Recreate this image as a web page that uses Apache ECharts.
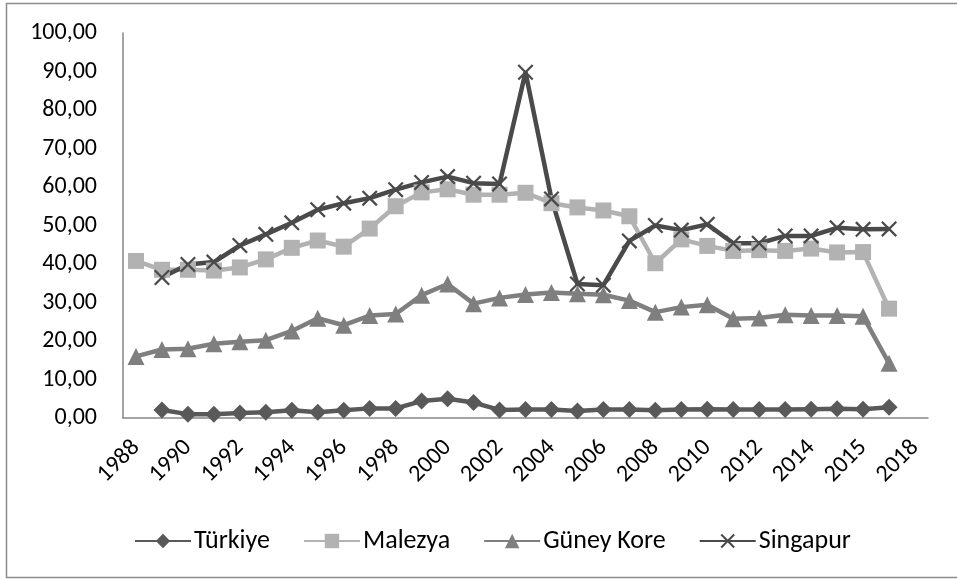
<!DOCTYPE html>
<html>
<head>
<meta charset="utf-8">
<script src="https://cdn.jsdelivr.net/npm/echarts@6/dist/echarts.min.js"></script>
<style>
html,body{margin:0;padding:0;background:#fff;}
#chart{width:957px;height:579px;}
</style>
</head>
<body>
<div id="chart"></div>
<script>
var years = ['1988','1989','1990','1991','1992','1993','1994','1995','1996','1997','1998','1999','2000','2001','2002','2003','2004','2005','2006','2007','2008','2009','2010','2011','2012','2013','2014','2015','2015','2016','2018'];
var yTicks = [0,10,20,30,40,50,60,70,80,90,100];
var turkiye = [null,2.1,1.0,1.0,1.3,1.5,2.0,1.5,2.0,2.5,2.5,4.4,5.0,4.0,2.1,2.2,2.2,1.8,2.2,2.2,2.0,2.2,2.3,2.2,2.2,2.2,2.3,2.4,2.3,2.8,null];
var malezya = [40.8,38.5,38.5,38.3,39.1,41.2,44.2,46.1,44.5,49.2,55.0,58.6,59.4,58.0,58.0,58.5,55.8,54.7,53.9,52.4,40.2,46.4,44.7,43.4,43.6,43.4,44.0,43.0,43.1,28.4,null];
var guneyKore = [16.0,17.8,18.0,19.3,19.8,20.2,22.6,25.9,24.1,26.6,27.0,31.9,34.8,29.7,31.2,32.1,32.6,32.3,32.0,30.5,27.5,28.8,29.4,25.8,26.0,26.8,26.6,26.6,26.4,14.2,null];
var singapur = [null,36.5,39.9,40.5,44.8,47.7,50.7,54.1,55.8,57.1,59.3,61.2,62.7,61.0,60.8,89.8,56.9,34.8,34.5,46.0,50.0,48.8,50.3,45.4,45.4,47.3,47.3,49.4,49.0,49.1,null];
var names = ['Türkiye','Malezya','Güney Kore','Singapur'];

var FONT = "Carlito, Calibri, 'Liberation Sans', sans-serif";
var xSym = 'path://M0,1 L1,0 L10,9 L9,10 Z M9,0 L10,1 L1,10 L0,9 Z';

function mk(name, data, color, symbol, size, lw) {
  return {
    name: name, type: 'line', data: data,
    symbol: symbol, symbolSize: size, showAllSymbol: true,
    symbolKeepAspect: true,
    lineStyle: {color: color, width: lw},
    itemStyle: {color: color},
    emphasis: {disabled: true},
    animation: false
  };
}

var chart = echarts.init(document.getElementById('chart'), null, {renderer: 'canvas'});
chart.setOption({
  backgroundColor: '#ffffff',
  animation: false,
  textStyle: {fontFamily: FONT},
  graphic: [{
    type: 'rect', shape: {x: 6.5, y: 3.5, width: 1000, height: 574},
    style: {fill: 'none', stroke: '#8c8c8c', lineWidth: 1.5}, silent: true
  }],
  grid: {left: 123, right: 29, top: 33, bottom: 161, containLabel: false},
  legend: {
    data: names, left: 129, top: 523,
    itemWidth: 56, itemHeight: 18, itemGap: 33,
    textStyle: {fontFamily: FONT, fontSize: 26, color: '#000', padding: [0,0,0,-2]}
  },
  xAxis: {
    type: 'category', data: years, boundaryGap: true,
    axisLine: {lineStyle: {color: '#868686', width: 1.5}},
    axisTick: {show: false},
    axisLabel: {interval: 1, rotate: 45, margin: 26, fontSize: 24, color: '#000', fontFamily: FONT}
  },
  yAxis: {
    type: 'value', min: yTicks[0], max: yTicks[yTicks.length-1], interval: 10,
    axisLine: {show: true, lineStyle: {color: '#868686', width: 1.5}},
    axisTick: {show: false},
    splitLine: {show: false},
    axisLabel: {margin: 26, fontSize: 24, color: '#000', fontFamily: FONT,
      formatter: function(v){ return v.toFixed(2).replace('.', ','); }}
  },
  series: [
    mk(names[0], turkiye, '#595959', 'diamond', 17, 4.5),
    mk(names[1], malezya, '#b2b2b2', 'rect', 16, 4.5),
    mk(names[2], guneyKore, '#7f7f7f', 'triangle', 17, 4.5),
    mk(names[3], singapur, '#4a4a4a', xSym, 16, 4.5)
  ]
});
</script>
</body>
</html>
